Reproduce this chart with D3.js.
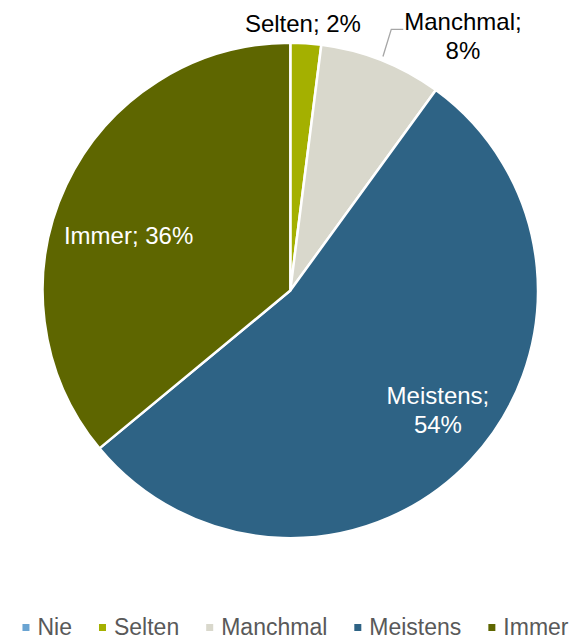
<!DOCTYPE html>
<html>
<head>
<meta charset="utf-8">
<script src="https://cdn.jsdelivr.net/npm/d3@7"></script>
<style>
  html, body { margin: 0; padding: 0; background: #fff; }
  svg { display: block; font-family: "Liberation Sans", Arial, sans-serif; }
</style>
</head>
<body>
<svg id="chart" width="575" height="641"></svg>
<script>
// Answer categories and their shares (percent)
const categories = ["Nie", "Selten", "Manchmal", "Meistens", "Immer"];
const shares = [0, 2, 8, 54, 36];
const colors = ["#6aa4d2", "#a4b000", "#d9d8cc", "#2e6385", "#5e6600"];

const W = 575, H = 641;
const cx = 290.3, cy = 290.5, R = 247.7;
const labelFont = 24, legendFont = 23;

const data = categories.map((c, i) => ({ name: c, value: shares[i], color: colors[i] }));

const svg = d3.select("#chart");
const g = svg.append("g").attr("transform", `translate(${cx},${cy})`);

const pie = d3.pie().value(d => d.value).sort(null);
const arc = d3.arc().innerRadius(0).outerRadius(R);
const arcs = pie(data);

g.selectAll("path.slice")
  .data(arcs)
  .join("path")
  .attr("class", "slice")
  .attr("d", arc)
  .attr("fill", d => d.data.color)
  .attr("stroke", "#fff")
  .attr("stroke-width", 2.5)
  .attr("stroke-linejoin", "round");

// Label placement: radius factor and angle shift (degrees) from each slice's mid angle
const labelLayout = {
  "Selten":   { rf: 1.08, da: -0.9, inside: false, lines: d => [`Selten; ${d.value}%`] },
  "Manchmal": { rf: 1.24, da: 12.6, inside: false, leader: true, lines: d => ["Manchmal;", `${d.value}%`] },
  "Meistens": { rf: 0.767, da: -4.2, inside: true, lines: d => ["Meistens;", `${d.value}%`] },
  "Immer":    { rf: 0.69, da: -6.3, inside: true, lines: d => [`Immer; ${d.value}%`] }
};

const lineH = 29;
const toXY = (angDeg, r) => {
  const a = angDeg * Math.PI / 180;
  return [r * Math.sin(a), -r * Math.cos(a)];
};

arcs.forEach(a => {
  const lay = labelLayout[a.data.name];
  if (!lay || a.data.value === 0) return;
  const mid = (a.startAngle + a.endAngle) / 2 * 180 / Math.PI;
  const [lx, ly] = toXY(mid + lay.da, lay.rf * R);
  const lines = lay.lines(a.data);
  const firstBase = ly - (lines.length - 1) * lineH / 2 + labelFont * 0.35;
  const t = g.append("text")
    .attr("text-anchor", "middle")
    .attr("font-size", labelFont)
    .attr("fill", lay.inside ? "#ffffff" : "#000000");
  lines.forEach((s, i) => {
    t.append("tspan").attr("x", lx).attr("y", firstBase + i * lineH).text(s);
  });
  if (lay.leader) {
    // width of the first line determines the left edge of the label block
    const firstW = t.select("tspan").node().getComputedTextLength();
    const endX = lx - firstW / 2 - 1;
    const endY = firstBase - 1;
    const [sx, sy] = toXY(mid, R + 4);
    g.append("polyline")
      .attr("points", [[sx, sy], [endX - 12, endY], [endX, endY]].map(p => p.join(",")).join(" "))
      .attr("fill", "none")
      .attr("stroke", "#a6a6a6")
      .attr("stroke-width", 1.3);
  }
});

// Legend along the bottom
const legend = svg.append("g").attr("class", "legend");
const markerSize = 7, textGap = 15, itemGap = 27, legendBase = 635;
let x = 0;
data.forEach(d => {
  const item = legend.append("g");
  item.append("rect")
    .attr("x", x).attr("y", legendBase - 11)
    .attr("width", markerSize).attr("height", markerSize)
    .attr("fill", d.color);
  const tx = item.append("text")
    .attr("x", x + textGap).attr("y", legendBase)
    .attr("font-size", legendFont)
    .attr("fill", "#595959")
    .text(d.name);
  x += textGap + tx.node().getComputedTextLength() + itemGap;
});
const legendW = x - itemGap;
legend.attr("transform", `translate(${295.5 - legendW / 2},0)`);
</script>
</body>
</html>
